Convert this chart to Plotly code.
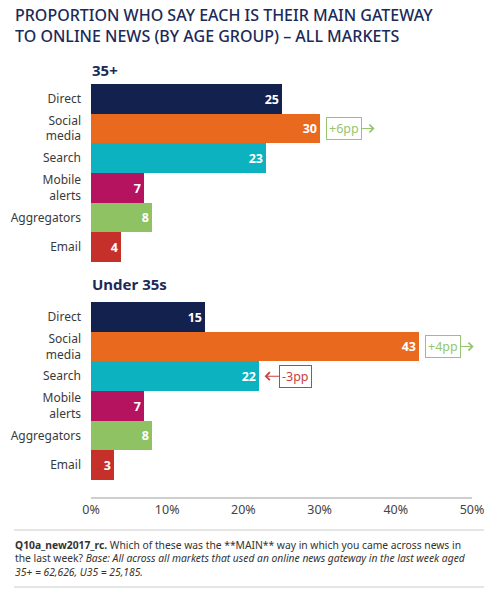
import plotly.graph_objects as go

categories = ["Direct", "Social media", "Search", "Mobile alerts", "Aggregators", "Email"]
tick_labels = ["Direct", "Social<br>media", "Search", "Mobile<br>alerts", "Aggregators", "Email"]
values_35plus = [25, 30, 23, 7, 8, 4]
values_under35 = [15, 43, 22, 7, 8, 3]
bar_colors = ["#13214f", "#e96a1f", "#0cb2bf", "#b5135f", "#8ec262", "#c5302a"]
x_ticks = [0, 10, 20, 30, 40, 50]
x_tick_labels = ["0%", "10%", "20%", "30%", "40%", "50%"]
changes = [  # (panel, category, label, direction)
    ("35+", "Social media", "+6pp", 1),
    ("U35", "Social media", "+4pp", 1),
    ("U35", "Search", "-3pp", -1),
]
title_text = ("PROPORTION WHO SAY EACH IS THEIR MAIN GATEWAY<br>"
              "TO ONLINE NEWS (BY AGE GROUP) – ALL MARKETS")

W, H = 497, 591
FONT = "Noto Sans"
NAVY = "#1b2a58"


def px_x(p):
    return p / W


def px_y(p):
    return 1 - p / H


fig = go.Figure()
for vals, xa, ya in [(values_35plus, "x", "y"), (values_under35, "x2", "y2")]:
    fig.add_trace(go.Bar(
        y=categories, x=vals, orientation="h", xaxis=xa, yaxis=ya,
        marker=dict(color=bar_colors, line=dict(width=0)),
        text=[str(v) for v in vals], textposition="inside", insidetextanchor="end",
        textfont=dict(family=FONT, size=12.5, color="white", weight="bold"),
        textangle=0, hoverinfo="skip", showlegend=False,
    ))

xdom = [px_x(91), px_x(472)]
common_y = dict(tickmode="array", tickvals=categories, ticktext=tick_labels,
                showgrid=False, zeroline=False, showline=False, ticks="",
                ticklabelstandoff=9, automargin=False,
                tickfont=dict(family=FONT, size=12, color="#3a3a3a"))
fig.update_layout(
    width=W, height=H, margin=dict(l=0, r=0, t=0, b=0, autoexpand=False),
    paper_bgcolor="white", plot_bgcolor="white", bargap=0,
    font=dict(family=FONT),
    uniformtext=dict(mode="show", minsize=10),
    xaxis=dict(domain=xdom, range=[0, 50], anchor="y", visible=False, automargin=False),
    yaxis=dict(domain=[px_y(262), px_y(84)], range=[5.5, -0.5], anchor="x", **common_y),
    xaxis2=dict(domain=xdom, range=[0, 50], anchor="y2", showgrid=False, zeroline=False,
                showline=True, linecolor="#cfcfcf", linewidth=2, ticks="", automargin=False,
                tickmode="array", tickvals=x_ticks, ticktext=x_tick_labels,
                tickfont=dict(family=FONT, size=12.5, color="#444444")),
    yaxis2=dict(domain=[px_y(497), px_y(302)], range=[6.07, -0.5], anchor="x2", **common_y),
)

# change annotations
vals_map = {"35+": (values_35plus, "x", "y"), "U35": (values_under35, "x2", "y2")}
for panel, cat, label, d in changes:
    vals, xa, ya = vals_map[panel]
    v = vals[categories.index(cat)]
    col = "#95c56e" if d > 0 else "#c9413b"
    fig.add_annotation(
        x=v, y=cat, xref=xa, yref=ya, text=label, showarrow=True,
        arrowhead=4, arrowsize=1.4, arrowwidth=1.1, arrowcolor=col,
        xshift=55 if d > 0 else 6, ax=-31 if d > 0 else 31, ay=0,
        bordercolor=col, borderwidth=1, borderpad=2, bgcolor="white",
        font=dict(family=FONT, size=12.5, color=col),
    )

# title
fig.add_annotation(
    x=px_x(13), y=px_y(2), xref="paper", yref="paper", xanchor="left",
    yanchor="top", text=title_text, showarrow=False, align="left",
    font=dict(family=FONT, size=16, color=NAVY, weight=500),
)
# panel labels
for lbl, ypx in [("35+", 70), ("Under 35s", 284)]:
    fig.add_annotation(x=px_x(90), y=px_y(ypx), xref="paper", yref="paper",
                       xanchor="left", yanchor="middle", text=lbl, showarrow=False,
                       font=dict(family=FONT, size=15, color=NAVY, weight="bold"))

# footnote
fig.add_annotation(
    x=px_x(13), y=px_y(536), xref="paper", yref="paper", xanchor="left", yanchor="top",
    align="left", showarrow=False,
    text=("<b>Q10a_new2017_rc.</b> Which of these was the **MAIN** way in which you came across news in<br>"
          "the last week? <i>Base: All across all markets that used an online news gateway in the last week aged</i><br>"
          "<i>35+ = 62,626, U35 = 25,185.</i>"),
    font=dict(family=FONT, size=10.3, color="#333333"),
)
for ypx in [530, 587]:
    fig.add_shape(type="line", xref="paper", yref="paper", x0=px_x(14), x1=px_x(484),
                  y0=px_y(ypx), y1=px_y(ypx), line=dict(color="#cccccc", width=1))

fig.write_html("out.html", config={"displayModeBar": False},
               post_script="document.body.style.margin='0';")
